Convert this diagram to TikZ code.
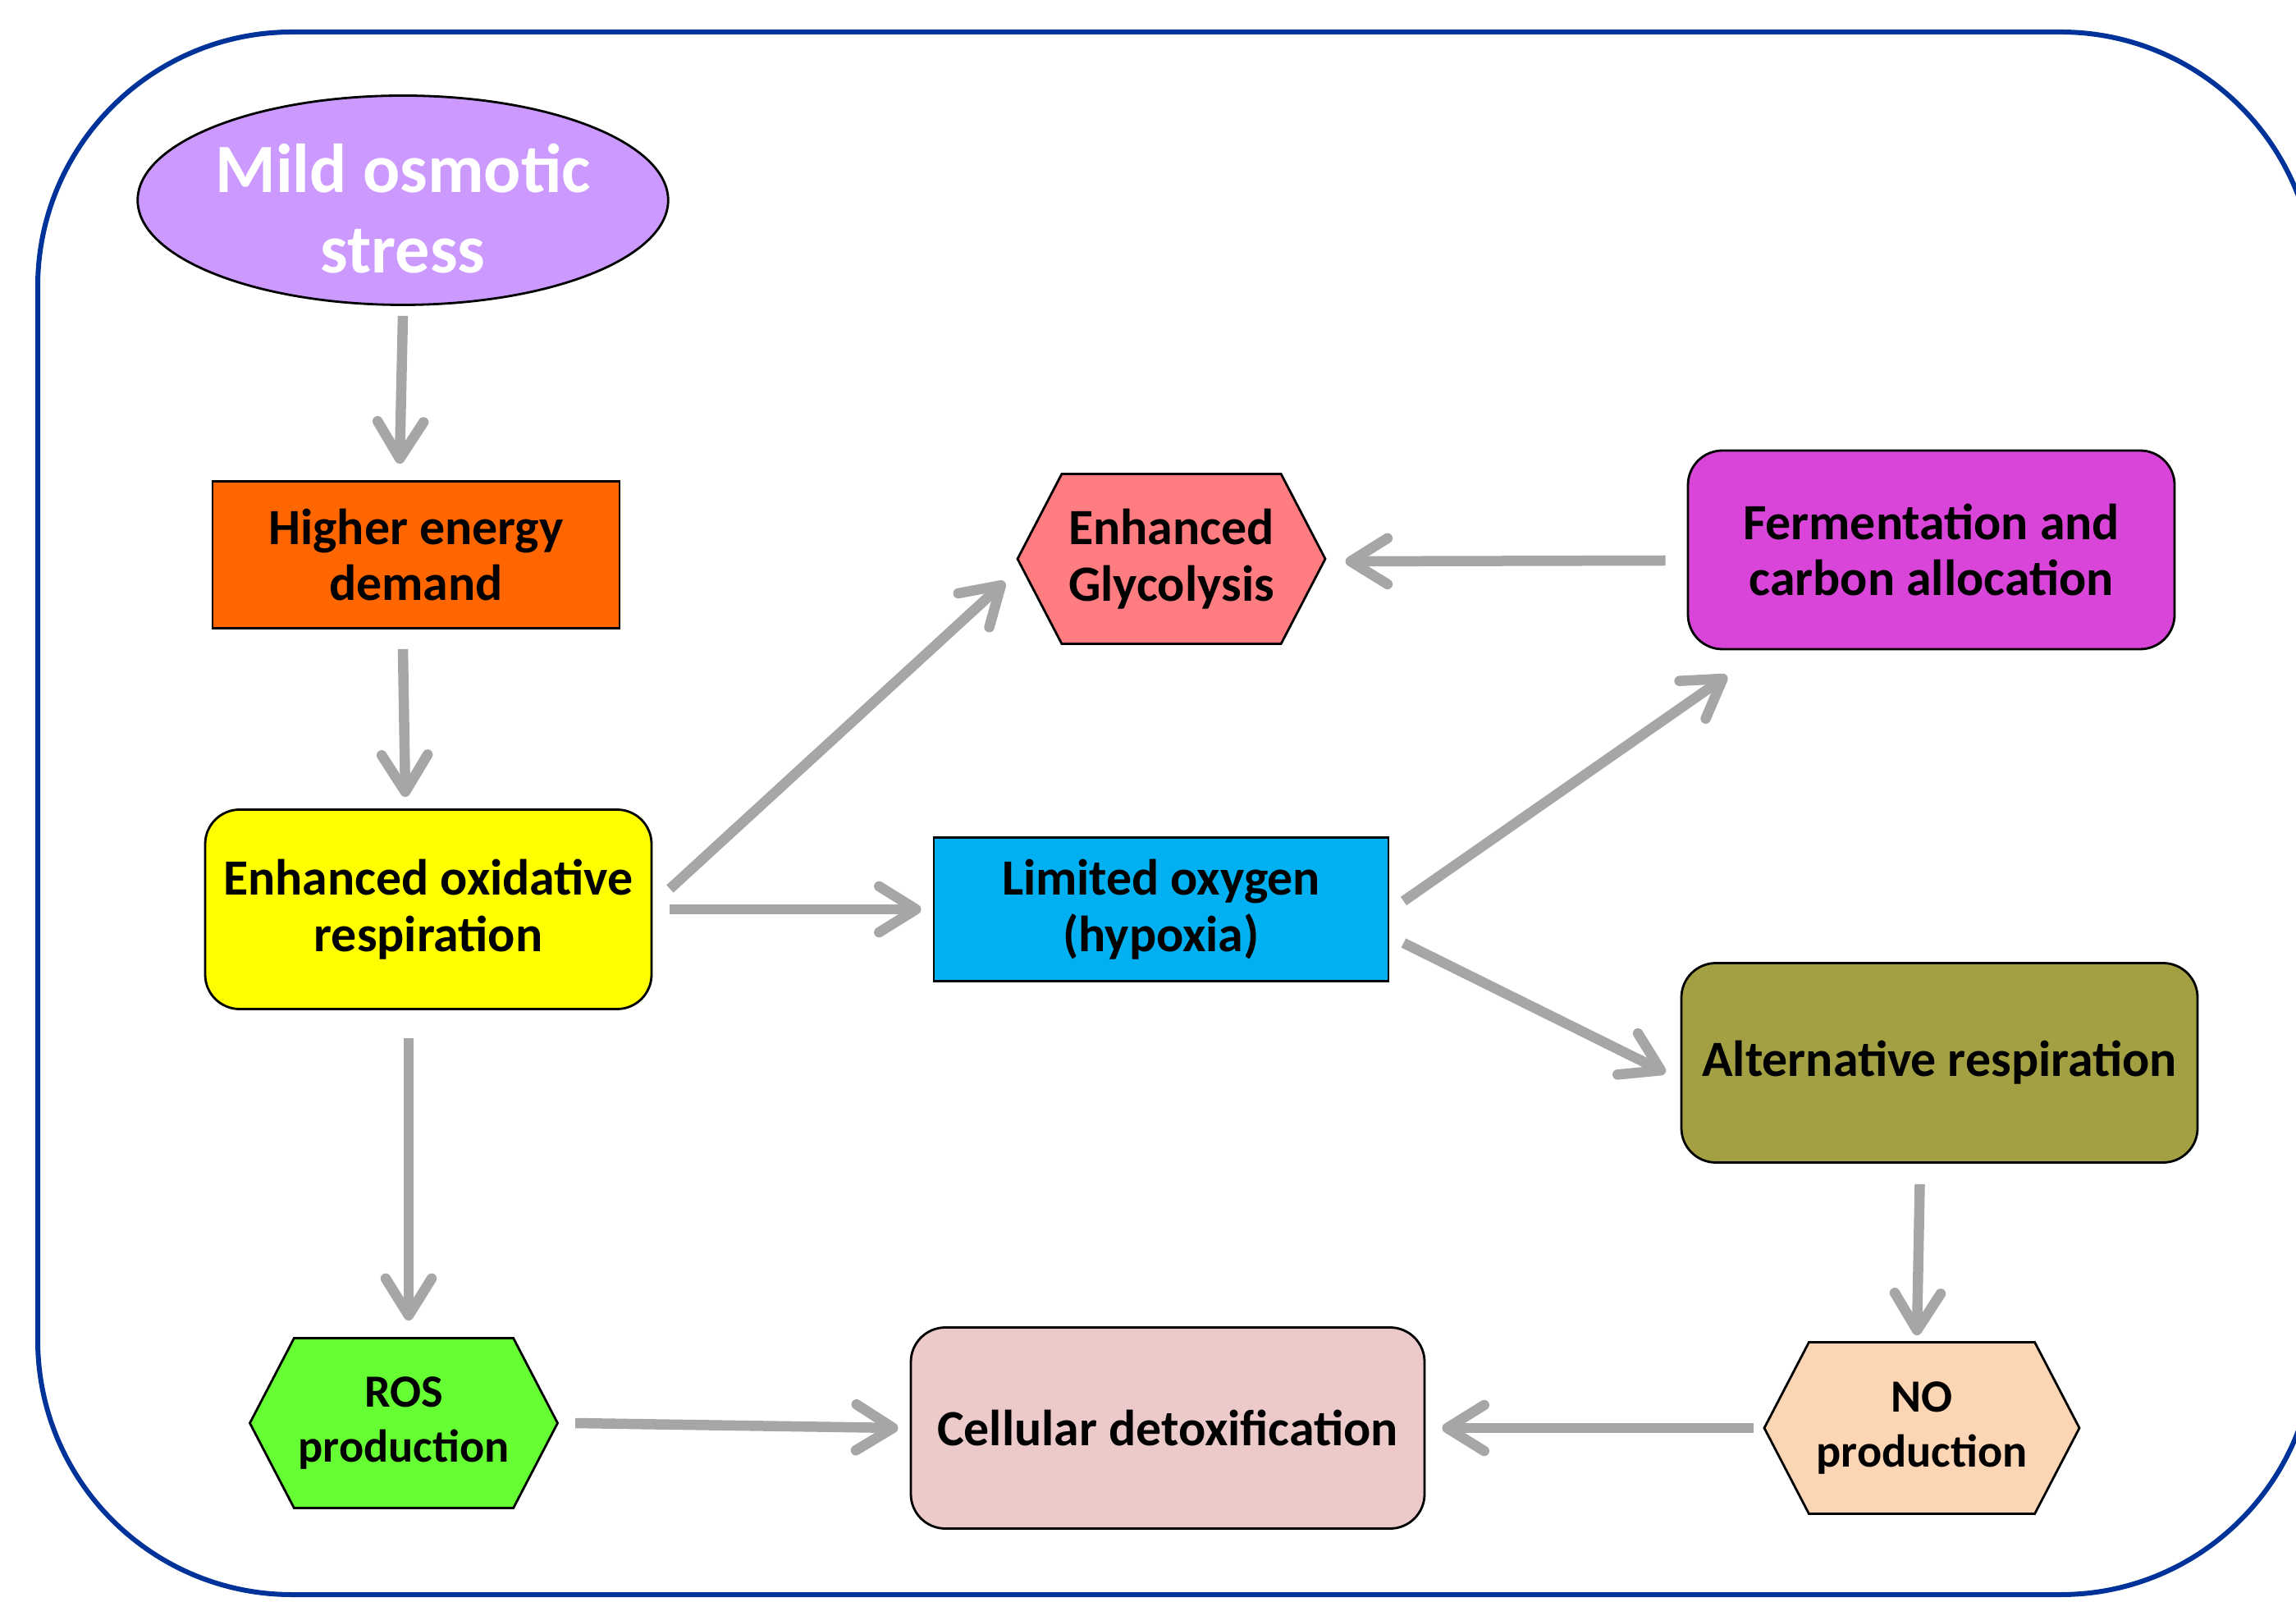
\documentclass[tikz,border=0pt]{standalone}
\usepackage{fontspec}
\setmainfont{Carlito}
\usepackage{tikz}
\usetikzlibrary{arrows.meta, positioning, shapes.geometric, shapes.symbols}

\definecolor{frameblue}{HTML}{003399}
\definecolor{arrowgray}{HTML}{A6A6A6}
\definecolor{lilac}{HTML}{CC99FF}
\definecolor{orangebox}{HTML}{FF6600}
\definecolor{yellowbox}{HTML}{FFFF00}
\definecolor{salmon}{HTML}{FF7C80}
\definecolor{magentabox}{HTML}{D944D9}
\definecolor{skyblue}{HTML}{00B0F0}
\definecolor{olivebox}{HTML}{A3A043}
\definecolor{greenhex}{HTML}{66FF33}
\definecolor{pinkbox}{HTML}{EDCACA}
\definecolor{peach}{HTML}{FCD5B5}

\begin{document}
\begin{tikzpicture}[
        node distance=2cm, on grid, >={Straight Barb[round,length=4.5mm,width=5.6mm]},
        every node/.style={align=center, font=\bfseries\fontsize{17.6}{19.6}\selectfont},
        box/.style={draw=black, line width=0.8pt, rectangle, inner sep=0pt},
        roundbox/.style={box, rounded corners=0.42cm},
        hexa/.style={draw=black, line width=0.8pt, signal, signal to=east and west,
                     signal pointer angle=125, inner sep=0pt,
                     minimum width=3.75cm, minimum height=2.07cm},
        small/.style={font=\bfseries\fontsize{16}{18.8}\selectfont},
        flow/.style={->, color=arrowgray, line width=0.125cm},
        frame/.style={draw=frameblue, line width=0.06cm, rounded corners=3.1cm}
        ]
        \useasboundingbox (0,0) rectangle (27.98,19.51);
        \draw[frame] (0.46,0.08) rectangle (28.21,19.12);

        \node[ellipse, draw=black, line width=0.8pt, fill=lilac, text=white,
              minimum width=6.32cm, minimum height=2.55cm, inner sep=0pt,
              font=\bfseries\fontsize{24}{27.9}\selectfont]
                                          (osm)    at (4.91,17.07)                 {\rule{0pt}{22.5pt}Mild osmotic\\stress};
        \node[box, fill=orangebox, minimum width=4.96cm, minimum height=1.79cm]
                                          (energy) [below=4.32cm of osm, xshift=1.6mm]    {Higher energy\\demand};
        \node[roundbox, fill=yellowbox, minimum width=5.44cm, minimum height=2.43cm]
                                          (oxi)    [below=4.32cm of energy, xshift=1.5mm] {Enhanced oxidative\\respiration};
        \node[hexa, small, fill=greenhex] (ros)    [below=6.26cm of oxi, xshift=-3mm]     {ROS\\production};
        \node[box, fill=skyblue, minimum width=5.54cm, minimum height=1.75cm]
                                          (hypo)   [right=8.93cm of oxi]                 {Limited oxygen\\(hypoxia)};
        \node[hexa, fill=salmon]          (glyc)   [above=4.27cm of hypo, xshift=1.25mm] {Enhanced\\Glycolysis};
        \node[roundbox, fill=magentabox, minimum width=5.93cm, minimum height=2.42cm]
                                          (ferm)   [right=9.26cm of glyc, yshift=1.1mm]  {Fermentation and\\carbon allocation};
        \node[roundbox, fill=olivebox, minimum width=6.29cm, minimum height=2.43cm]
                                          (alt)    [below=6.25cm of ferm, xshift=1mm]    {Alternative respiration};
        \node[hexa, small, fill=peach, minimum width=3.84cm, minimum height=2.09cm]
                                          (no)     [below=4.45cm of alt, xshift=-2.15mm] {NO\\production};
        \node[roundbox, fill=pinkbox, minimum width=6.26cm, minimum height=2.45cm]
                                          (detox)  [left=9.19cm of no]                   {Cellular detoxification};

        \path[flow] ([yshift=-1.2mm]osm.south) edge ([xshift=-2mm,yshift=2mm]energy.north)
        ([xshift=-1.6mm,yshift=-2.4mm]energy.south) edge ([xshift=-2.8mm,yshift=1.4mm]oxi.north)
        ([xshift=-2.4mm,yshift=-3.4mm]oxi.south) edge ([xshift=0.6mm,yshift=2mm]ros.north)
        ([xshift=2.1mm,yshift=2.5mm]oxi.east) edge ([xshift=-1.4mm,yshift=-2.8mm]glyc.west)
        ([xshift=2.1mm]oxi.east) edge ([xshift=-1.4mm]hypo.west)
        ([xshift=-2.6mm,yshift=-1.3mm]ferm.west) edge ([xshift=2.3mm,yshift=-0.3mm]glyc.east)
        ([xshift=1.7mm,yshift=1mm]hypo.east) edge ([xshift=4.9mm,yshift=-3.1mm]ferm.south west)
        ([xshift=1.7mm,yshift=-4.1mm]hypo.east) edge ([xshift=-1.8mm,yshift=-1.2mm]alt.west)
        ([xshift=-2.4mm,yshift=-2.5mm]alt.south) edge ([xshift=-0.6mm,yshift=0.7mm]no.north)
        ([xshift=-1.1mm]no.west) edge ([xshift=2mm]detox.east)
        ([xshift=2mm]ros.east) edge ([xshift=-1.4mm]detox.west);
      \end{tikzpicture}
\end{document}
